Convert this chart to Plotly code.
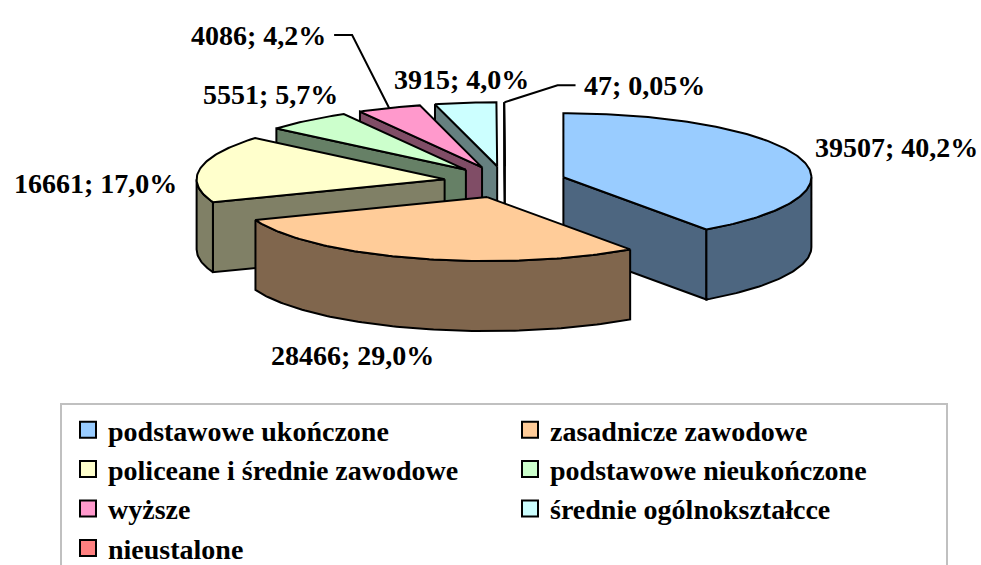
import math
import plotly.graph_objects as go

# ---------------- data ----------------
categories = ["podstawowe ukończone", "zasadnicze zawodowe", "policeane i średnie zawodowe",
              "podstawowe nieukończone", "wyższe", "średnie ogólnokształcce", "nieustalone"]
values = [39507, 28466, 16661, 5551, 4086, 3915, 47]
pct_decimals = [1, 1, 1, 1, 1, 1, 2]

# ---------------- style ----------------
top_colors = ["#99CCFF", "#FFCC99", "#FFFFCC", "#CCFFCC", "#FF99CC", "#CCFFFF", "#FF8080"]
wall_colors = ["#4D6680", "#80664D", "#808066", "#668066", "#804D66", "#668080", "#804040"]
# label placement relative to the slice's outer mid point: (dx, dy, xanchor, leader)
label_style = [(13, -10, "left", False), (-62, 27, "center", False), (-21, 15, "right", False),
               (-37, -26, "center", False), (-61, -73, "right", True), (-4, -23, "center", False),
               (77, -17, "left", True)]

W, Hh = 981, 600           # figure taller than window so the legend box runs off the bottom
CX, CY = 505, 182          # pie centre (pixels)
RX, RY = 248, 64           # ellipse radii
DEPTH = 70                 # wall height
EXPLODE = 0.247            # explosion fraction of radius
FONT = "Liberation Serif"
LINE = dict(color="black", width=2)

total = sum(values)


def pt(cx, cy, deg, r=1.0, dz=0.0):
    t = math.radians(deg)
    return cx + RX * r * math.sin(t), cy - RY * r * math.cos(t) + dz


def arc(cx, cy, a, b, dz=0.0):
    n = max(2, int(abs(b - a) / 1.0) + 2)
    return [pt(cx, cy, a + (b - a) * k / (n - 1), 1.0, dz) for k in range(n)]


slices = []
cum = 0.0
for i, v in enumerate(values):
    a1 = cum / total * 360
    cum += v
    a2 = cum / total * 360
    mid = (a1 + a2) / 2
    c = pt(CX, CY, mid, EXPLODE)
    slices.append(dict(i=i, a1=a1, a2=a2, mid=mid, c=c))

fig = go.Figure()


def poly(points, color):
    xs = [p[0] for p in points] + [points[0][0]]
    ys = [p[1] for p in points] + [points[0][1]]
    fig.add_trace(go.Scatter(x=xs, y=ys, mode="lines", fill="toself", fillcolor=color,
                             line=LINE, hoverinfo="skip", showlegend=False))


# draw back to front
for s in sorted(slices, key=lambda s: -math.cos(math.radians(s["mid"]))):
    i, a1, a2 = s["i"], s["a1"], s["a2"]
    cx, cy = s["c"]
    wc = wall_colors[i]
    if math.sin(math.radians(a1)) < -1e-9:
        p = pt(cx, cy, a1)
        poly([(cx, cy), p, (p[0], p[1] + DEPTH), (cx, cy + DEPTH)], wc)
    if math.sin(math.radians(a2)) > 1e-9:
        p = pt(cx, cy, a2)
        poly([(cx, cy), p, (p[0], p[1] + DEPTH), (cx, cy + DEPTH)], wc)
    lo, hi = max(a1, 90), min(a2, 270)
    if lo < hi:
        poly(arc(cx, cy, lo, hi) + arc(cx, cy, hi, lo, DEPTH), wc)
    poly([(cx, cy)] + arc(cx, cy, a1, a2), top_colors[i])

# labels
for s in slices:
    i = s["i"]
    dx, dy, xa, leader = label_style[i]
    ox, oy = pt(s["c"][0], s["c"][1], s["mid"])
    if 90 < s["mid"] < 270:
        oy += DEPTH
    pct = f"{values[i] / total * 100:.{pct_decimals[i]}f}".replace(".", ",")
    txt = f"{values[i]}; {pct}%"
    lx, ly = ox + dx, oy + dy
    fig.add_annotation(x=lx, y=ly, xref="x", yref="y", text=txt, showarrow=False,
                       xanchor=xa, yanchor="middle",
                       font=dict(family=FONT, size=28, color="black", weight="bold"))
    if leader:
        sgn = 1 if xa == "right" else -1
        x0 = lx + sgn * 6
        x1 = x0 + sgn * 18
        fig.add_trace(go.Scatter(x=[x0, x1, ox], y=[ly, ly, oy], mode="lines",
                                 line=LINE, hoverinfo="skip", showlegend=False))

# legend entries
for i, name in enumerate(categories):
    fig.add_trace(go.Scatter(x=[None], y=[None], mode="markers", name=name,
                             marker=dict(symbol="square", size=16, color=top_colors[i],
                                         line=dict(color="black", width=2))))

fig.update_layout(
    width=W, height=Hh,
    margin=dict(l=0, r=0, t=0, b=0),
    paper_bgcolor="white", plot_bgcolor="white",
    xaxis=dict(range=[0, W], visible=False, fixedrange=True),
    yaxis=dict(range=[Hh, 0], visible=False, fixedrange=True),
    showlegend=True,
    legend=dict(orientation="h", x=60 / W, xanchor="left", y=1 - 403 / Hh, yanchor="top",
                bordercolor="#C0C0C0", borderwidth=2, bgcolor="white", indentation=6,
                entrywidth=391, entrywidthmode="pixels", traceorder="normal",
                font=dict(family=FONT, size=28, color="black", weight="bold")),
)

fig.write_html("out.html", config={"displayModeBar": False},
               post_script="document.body.style.margin='0';document.body.style.overflow='hidden';")
